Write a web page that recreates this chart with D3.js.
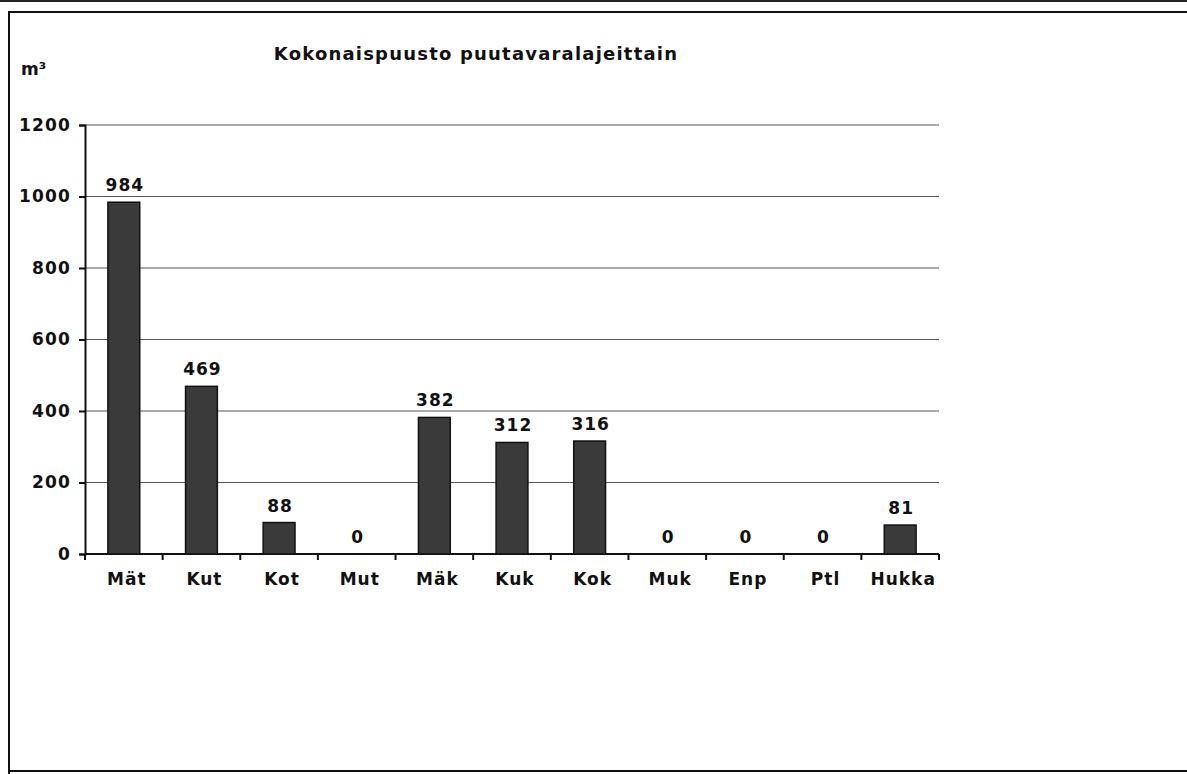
<!DOCTYPE html>
<html>
<head>
<meta charset="utf-8">
<script src="https://cdn.jsdelivr.net/npm/d3@7"></script>
<style>
  body { margin: 0; background: #fff; }
  text { font-family: "DejaVu Sans", Verdana, sans-serif; font-weight: bold; fill: #111; }
</style>
</head>
<body>
<div id="chart"></div>
<script>
// data
let categories = ["Mät", "Kut", "Kot", "Mut", "Mäk", "Kuk", "Kok", "Muk", "Enp", "Ptl", "Hukka"];
let values = [984, 469, 88, 0, 382, 312, 316, 0, 0, 0, 81];
let yTicks = [0, 200, 400, 600, 800, 1000, 1200];
let title = "Kokonaispuusto puutavaralajeittain";
let unit = "m³";

document.addEventListener("DOMContentLoaded", function () {
  drawChart();
});

function drawChart() {
  var W = 1187, H = 774;
  var left = 85, right = 939, top = 125, bottom = 554;

  var svg = d3.select("#chart")
    .append("svg")
    .attr("width", W)
    .attr("height", H);

  // frame of the scanned page (no right edge)
  svg.append("line").attr("x1", 0).attr("x2", W).attr("y1", 1).attr("y2", 1)
    .attr("stroke", "#222").attr("stroke-width", 2);
  svg.append("line").attr("x1", 8).attr("x2", W).attr("y1", 12).attr("y2", 12)
    .attr("stroke", "#111").attr("stroke-width", 2);
  svg.append("line").attr("x1", 9).attr("x2", 9).attr("y1", 11).attr("y2", H)
    .attr("stroke", "#111").attr("stroke-width", 2);
  svg.append("line").attr("x1", 8).attr("x2", W).attr("y1", 771).attr("y2", 771)
    .attr("stroke", "#111").attr("stroke-width", 2);

  // X scale
  var x = d3.scaleBand()
    .domain(categories)
    .range([left, right])
    .paddingInner(0.59)
    .paddingOuter(0.295);
  var step = x.step();

  // Y scale
  var y = d3.scaleLinear()
    .domain([0, 1200])
    .range([bottom, top]);

  // grid lines
  svg.selectAll("gridLine")
    .data(yTicks.filter(function (d) { return d > 0; }))
    .enter()
    .append("line")
    .attr("x1", left)
    .attr("x2", right)
    .attr("y1", function (d) { return y(d); })
    .attr("y2", function (d) { return y(d); })
    .attr("stroke", "#555")
    .attr("stroke-width", 1.2);

  // Y axis
  var yAxis = svg.append("g")
    .attr("transform", "translate(" + left + ",0)")
    .call(d3.axisLeft(y).tickValues(yTicks).tickFormat(d3.format("d")).tickSize(6).tickPadding(8));
  yAxis.select(".domain").attr("stroke", "#111").attr("stroke-width", 2);
  yAxis.selectAll(".tick line").attr("stroke", "#111").attr("stroke-width", 2);
  yAxis.selectAll("text")
    .style("font-family", "'DejaVu Sans', Verdana, sans-serif")
    .style("font-weight", "bold")
    .style("font-size", "17px")
    .style("letter-spacing", "1.2px")
    .attr("fill", "#111");

  // X axis line and boundary ticks
  svg.append("line")
    .attr("x1", left).attr("x2", right)
    .attr("y1", bottom).attr("y2", bottom)
    .attr("stroke", "#111").attr("stroke-width", 2);

  var boundaries = d3.range(categories.length + 1);
  svg.selectAll("xTick")
    .data(boundaries)
    .enter()
    .append("line")
    .attr("x1", function (i) { return left + i * step; })
    .attr("x2", function (i) { return left + i * step; })
    .attr("y1", bottom)
    .attr("y2", bottom + 6)
    .attr("stroke", "#111")
    .attr("stroke-width", 2);

  // X labels
  svg.selectAll("xLabel")
    .data(categories)
    .enter()
    .append("text")
    .attr("x", function (d) { return x(d) + x.bandwidth() / 2 + 3; })
    .attr("y", bottom + 31)
    .attr("text-anchor", "middle")
    .style("font-size", "17px")
    .style("letter-spacing", "1px")
    .text(function (d) { return d; });

  // Bars
  svg.selectAll("bar")
    .data(values)
    .enter()
    .append("rect")
    .attr("x", function (d, i) { return x(categories[i]); })
    .attr("y", function (d) { return y(d); })
    .attr("width", x.bandwidth())
    .attr("height", function (d) { return bottom - y(d); })
    .attr("fill", "#3a3a3a")
    .attr("stroke", "#111")
    .attr("stroke-width", 1.5);

  // Value labels
  svg.selectAll("valLabel")
    .data(values)
    .enter()
    .append("text")
    .attr("x", function (d, i) { return x(categories[i]) + x.bandwidth() / 2 + 1; })
    .attr("y", function (d) { return y(d) - 11; })
    .attr("text-anchor", "middle")
    .style("font-size", "17px")
    .style("letter-spacing", "1px")
    .text(function (d) { return d; });

  // Title and unit
  svg.append("text")
    .attr("x", 476)
    .attr("y", 60)
    .attr("text-anchor", "middle")
    .style("font-size", "18px")
    .style("letter-spacing", "1.2px")
    .text(title);

  svg.append("text")
    .attr("x", 21)
    .attr("y", 75)
    .style("font-size", "17px")
    .text(unit);
}
</script>
</body>
</html>
